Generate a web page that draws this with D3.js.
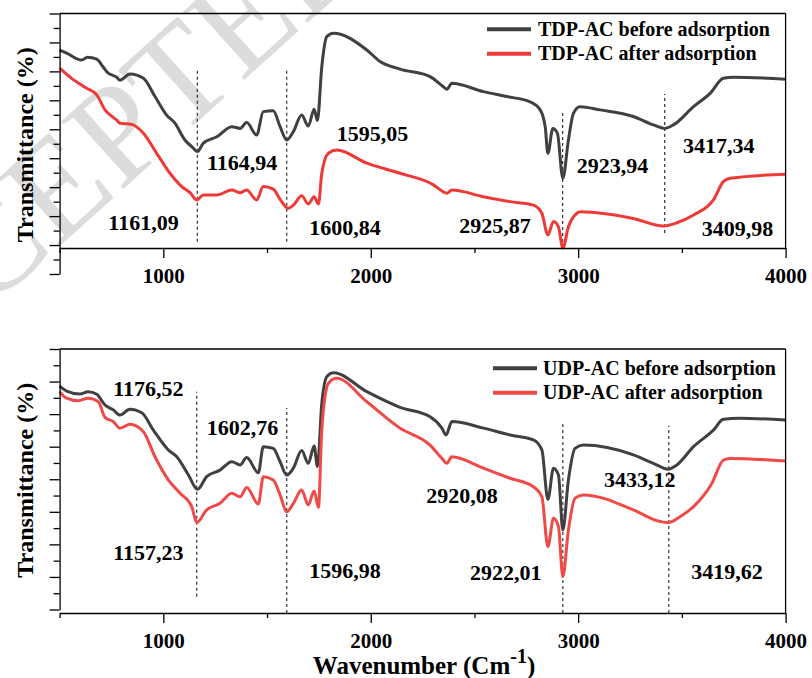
<!DOCTYPE html>
<html>
<head>
<meta charset="utf-8">
<script src="https://cdn.jsdelivr.net/npm/d3@7"></script>
<style>
  body { margin: 0; background: #fff; }
  svg { display: block; }
  text { font-family: "Liberation Serif", "Times New Roman", serif; font-weight: bold; fill: #000; }
</style>
</head>
<body>
<svg id="chart" width="812" height="678"></svg>
<script>
// ---- FTIR spectra: wavenumber (cm-1) and transmittance (%) ----
const tdpBeforeWave = [500,534,607,634,679,709,727,775,791,839,904,960,1016,1056,1104,1137,1165,1193,1258,1330,1370,1402,1450,1482,1530,1563,1595,1627,1667,1699,1727,1743,1764,1788,1820,1981,2045,2141,2286,2350,2367,2391,2543,2656,2768,2817,2841,2854,2878,2900,2926,2953,2977,3009,3106,3266,3363,3417,3459,3556,3636,3700,3749,4000];
const tdpBeforeT    = [77.4,76.3,73.9,74.9,74.2,71.6,69.9,68.0,67.0,69.1,67.6,61.3,54.9,52.1,46.3,44.0,42.3,45.2,47.4,50.9,50.3,52.3,48.0,56.1,56.4,50.9,46.3,49.2,54.9,51.1,56.9,53.0,71.6,82.0,83.2,77.4,73.4,70.8,68.2,64.7,63.8,65.9,63.0,61.3,59.5,56.7,50.9,41.7,50.3,48.6,33.1,46.3,55.5,57.8,56.7,54.4,51.5,50.3,51.5,57.8,62.4,67.6,68.0,67.3];

const tdpAfterWave = [500,558,622,679,719,775,791,848,904,968,1032,1089,1129,1161,1193,1258,1330,1370,1402,1450,1482,1530,1563,1601,1627,1667,1699,1727,1748,1764,1796,1836,1981,2141,2302,2350,2367,2391,2543,2672,2784,2825,2854,2881,2905,2926,2953,2994,3010,3266,3411,3476,3556,3652,3700,3733,4000];
const tdpAfterT    = [71.1,67.6,64.5,61.9,56.7,53.2,52.1,51.7,48.6,41.7,34.8,30.2,28.1,25.6,27.3,27.3,29.0,28.1,29.0,25.6,30.2,29.3,25.8,22.7,23.8,27.0,24.2,26.7,24.2,34.8,41.7,42.8,38.3,34.8,30.8,28.4,27.9,29.0,26.7,25.0,23.8,21.0,13.5,18.1,16.3,8.9,16.3,21.0,21.5,19.2,16.6,17.7,20.4,25.6,31.9,33.1,34.5];

const udpBeforeWave = [500,534,598,638,679,719,759,791,839,896,952,1024,1065,1121,1165,1209,1273,1330,1370,1402,1458,1482,1530,1563,1595,1627,1667,1699,1727,1743,1764,1788,1820,1981,2141,2286,2343,2363,2391,2543,2672,2784,2825,2854,2881,2905,2926,2953,2985,3025,3266,3363,3433,3476,3556,3652,3700,3781,4000];
const udpBeforeT    = [68.6,67.1,66.2,66.9,66.1,62.8,61.3,59.7,61.5,60.4,55.1,49.0,46.9,41.3,36.9,40.8,42.8,45.4,44.4,46.7,42.0,50.0,49.5,45.4,41.3,43.4,48.8,44.9,50.2,43.9,63.3,71.5,72.7,66.9,62.1,59.2,55.7,53.6,57.7,55.7,53.6,52.1,49.0,33.8,43.4,41.3,24.4,39.8,49.5,50.5,47.5,44.9,43.1,44.4,50.0,55.1,58.4,58.7,58.2];

const udpAfterWave = [500,534,590,638,687,719,759,791,839,904,960,1024,1081,1137,1161,1209,1273,1330,1370,1402,1458,1482,1530,1563,1595,1627,1667,1699,1727,1748,1764,1796,1836,1981,2141,2286,2343,2367,2391,2543,2672,2784,2825,2854,2881,2905,2926,2953,2985,3025,3266,3379,3435,3491,3556,3645,3700,3733,4000];
const udpAfterT    = [66.9,64.9,64.1,64.9,63.8,59.0,57.7,55.7,56.9,54.6,46.9,39.8,35.7,31.6,26.7,30.6,32.6,35.7,34.6,37.5,32.4,40.8,39.8,35.2,30.0,32.6,36.7,32.1,36.4,31.4,55.1,69.5,71.0,63.8,55.7,50.5,46.4,44.9,46.9,43.4,40.3,37.7,34.6,19.3,28.0,25.4,10.1,24.4,34.2,35.2,30.6,27.3,26.7,28.5,31.6,38.8,45.9,46.4,45.6];

// band guide lines: wavenumber and vertical extent (%)
const tdpMarkWave = [1164, 1595, 2925, 3417];
const tdpMarkLow  = [11.1, 11.1, 9.0, 14.2];
const tdpMarkHigh = [70.2, 70.2, 55.6, 62.2];
const udpMarkWave = [1161, 1595, 2926, 3437];
const udpMarkLow  = [3.9, -1.1, -1.1, -1.1];
const udpMarkHigh = [66.9, 61.9, 57.0, 56.4];

// band labels, anchored at (wavenumber, %)
const tdpLabels     = ["1164,94","1161,09","1595,05","1600,84","2923,94","2925,87","3417,34","3409,98"];
const tdpLabelWave  = [1211, 735, 1836, 1704, 2993, 2427, 3505, 3596];
const tdpLabelT     = [35.9, 15.2, 46.0, 13.5, 34.8, 14.1, 41.7, 13.1];
const udpLabels     = ["1176,52","1157,23","1602,76","1596,98","2920,08","2922,01","3433,12","3419,62"];
const udpLabelWave  = [759, 759, 1209, 1704, 2267, 2479, 3125, 3545];
const udpLabelT     = [65.7, 15.2, 53.6, 9.8, 32.6, 9.1, 37.5, 9.3];

const xTicks = [500,1000,1500,2000,2500,3000,3500,4000];
const xTickLabels = ["", "1000", "", "2000", "", "3000", "", "4000"];

const tdpLegend = ["TDP-AC before adsorption", "TDP-AC after adsorption"];
const udpLegend = ["UDP-AC before adsorption", "UDP-AC after adsorption"];

const colorBefore = "#404040";
const colorAfterTop = "#ee3a36";
const colorAfterBottom = "#f04a48";

// ---- drawing ----
const svg = d3.select("#chart");

// faint diagonal watermark behind the plots
svg.append("text")
  .attr("transform", "translate(-158,442) rotate(-42)")
  .style("font-weight", "normal")
  .style("font-size", "140px")
  .style("fill", "#dcdcdc")
  .text("ACCEPTED MANUSCRIPT");

const x = d3.scaleLinear().domain([500, 4000]).range([59.6, 785.6]);

const panels = [
  { top: 13.5, bottom: 274, axisY: 248, yMax: 90,
    series: [[tdpBeforeWave, tdpBeforeT, colorBefore], [tdpAfterWave, tdpAfterT, colorAfterTop]],
    marks: [tdpMarkWave, tdpMarkLow, tdpMarkHigh],
    labels: [tdpLabels, tdpLabelWave, tdpLabelT],
    legend: tdpLegend, legendX: 487, legendY: 29.3, legendTextX: 538, legendColors: [colorBefore, colorAfterTop],
    tickLabelDy: 35 },
  { top: 349, bottom: 609.5, axisY: 613, yMax: 80,
    series: [[udpBeforeWave, udpBeforeT, colorBefore], [udpAfterWave, udpAfterT, colorAfterBottom]],
    marks: [udpMarkWave, udpMarkLow, udpMarkHigh],
    labels: [udpLabels, udpLabelWave, udpLabelT],
    legend: udpLegend, legendX: 493, legendY: 368.3, legendTextX: 543, legendColors: [colorBefore, colorAfterBottom],
    tickLabelDy: 35 }
];

panels.forEach(p => {
  const y = d3.scaleLinear().domain([0, p.yMax]).range([p.bottom, p.top]);
  const g = svg.append("g");

  // dashed band guides
  p.marks[0].forEach((w, i) => {
    g.append("line")
      .attr("x1", x(w)).attr("x2", x(w))
      .attr("y1", y(p.marks[1][i])).attr("y2", y(p.marks[2][i]))
      .attr("stroke", "#333").attr("stroke-width", 1.2)
      .attr("stroke-dasharray", "3,3");
  });

  // spectra
  const line = d3.line().curve(d3.curveMonotoneX)
    .x(d => x(d[0])).y(d => y(d[1]));
  p.series.forEach(([ws, ts, c]) => {
    g.append("path")
      .datum(ws.map((w, i) => [w, ts[i]]))
      .attr("d", line)
      .attr("fill", "none")
      .attr("stroke", c)
      .attr("stroke-width", 3)
      .attr("stroke-linejoin", "round");
  });

  // y axis (no labels), major every 10
  const yAxis = d3.axisLeft(y).tickValues(d3.range(0, p.yMax + 1, 5))
    .tickFormat("").tickSize(6).tickSizeOuter(0);
  const ya = g.append("g").attr("transform", `translate(${x(500)},0)`).call(yAxis);
  ya.selectAll(".tick line").attr("x2", d => d % 10 === 0 ? -10 : -6);
  ya.selectAll("line,path").attr("stroke", "#000").attr("stroke-width", 1.3);

  // x axis
  const xAxis = d3.axisBottom(x).tickValues(xTicks)
    .tickFormat((d, i) => xTickLabels[i]).tickSize(6).tickSizeOuter(0);
  const xa = g.append("g").attr("transform", `translate(0,${p.axisY})`).call(xAxis);
  xa.selectAll(".tick line").attr("y2", d => d % 1000 === 0 ? 10 : 5);
  xa.selectAll("line,path").attr("stroke", "#000").attr("stroke-width", 1.3);
  xa.selectAll(".tick text")
    .attr("y", p.tickLabelDy).attr("dy", null)
    .style("font-size", "21px")
    .style("font-family", '"Liberation Serif", "Times New Roman", serif')
    .style("font-weight", "bold");

  // top and right frame lines
  g.append("line").attr("x1", x(500)).attr("x2", x(4000)).attr("y1", p.top).attr("y2", p.top)
    .attr("stroke", "#000").attr("stroke-width", 1.3);
  g.append("line").attr("x1", x(4000)).attr("x2", x(4000)).attr("y1", p.top).attr("y2", p.axisY)
    .attr("stroke", "#000").attr("stroke-width", 1.3);

  // band labels
  p.labels[0].forEach((t, i) => {
    g.append("text")
      .attr("x", x(p.labels[1][i])).attr("y", y(p.labels[2][i]))
      .style("font-size", "22px")
      .text(t);
  });

  // legend
  p.legend.forEach((t, i) => {
    const ly = p.legendY + i * 24.5;
    g.append("line").attr("x1", p.legendX).attr("x2", p.legendX + 44)
      .attr("y1", ly).attr("y2", ly)
      .attr("stroke", p.legendColors[i]).attr("stroke-width", 4);
    g.append("text").attr("x", p.legendTextX).attr("y", ly + 6.5)
      .style("font-size", "20px").text(t);
  });

  // y axis title
  g.append("text")
    .attr("transform", `translate(33,${(p.top + p.bottom) / 2 + 1}) rotate(-90)`)
    .attr("text-anchor", "middle")
    .style("font-size", "24px")
    .text("Transmittance (%)");
});

// x axis title with superscript
const xt = svg.append("text")
  .attr("x", 424).attr("y", 674)
  .attr("text-anchor", "middle")
  .style("font-size", "25px");
xt.append("tspan").text("Wavenumber (Cm");
xt.append("tspan").attr("dy", -11).style("font-size", "20px").text("-1");
xt.append("tspan").attr("dy", 11).text(")");
</script>
</body>
</html>
